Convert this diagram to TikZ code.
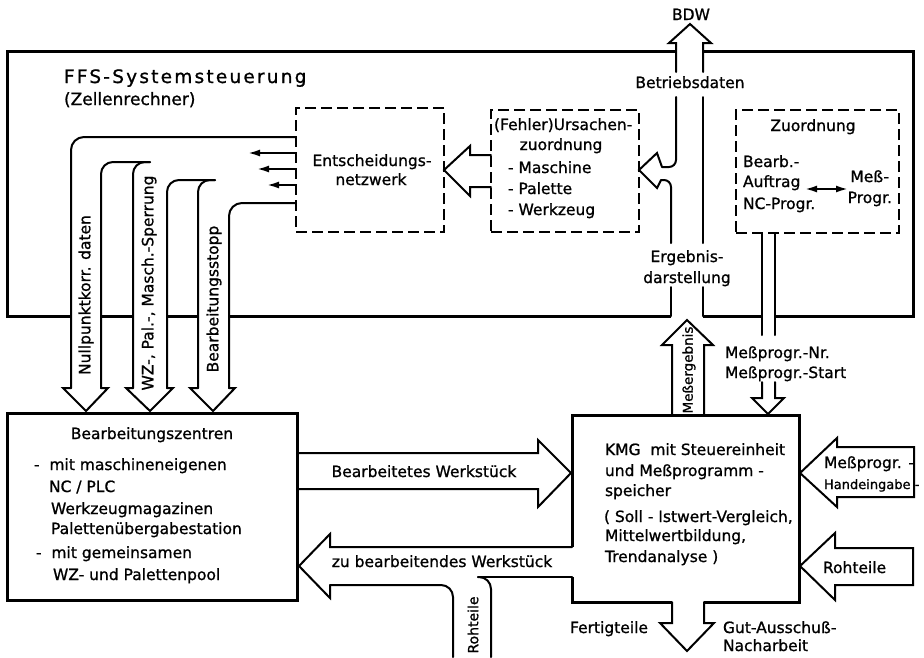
\documentclass[tikz,border=0pt]{standalone}
\usepackage{fontspec}
\setmainfont{DejaVu Sans}[FakeBold=1]
\newfontfamily\titlefont[LetterSpace=12,FakeBold=1]{DejaVu Sans}
\usetikzlibrary{arrows.meta}

\begin{document}
\begin{tikzpicture}[x=1pt, y=-1pt, line width=2pt, line cap=round,
    every node/.style={inner sep=0pt, font=\fontsize{15.5}{18}\selectfont},
    frame/.style={line width=3pt, line cap=butt},
    dashbox/.style={draw, line width=2pt, dash pattern=on 11pt off 5pt, line cap=butt},
    solidbox/.style={draw, line width=3pt},
    txt/.style={anchor=base west},
    mid/.style={anchor=base},
    rgt/.style={anchor=base east},
    vtxt/.style={rotate=90}]
   \tikzset{>={Latex[length=12pt,width=7pt]}}
   \useasboundingbox (0,0) rectangle (924,657);

   \draw[frame] (71,316) -- (7,316) -- (7,51) -- (676,51);
   \draw[frame] (703,51) -- (913,51) -- (913,316) -- (775,316);
   \draw[frame] (762,316) -- (703,316);
   \draw[frame] (671,316) -- (229,316);
   \draw[frame] (198,316) -- (167,316);
   \draw[frame] (133,316) -- (101,316);
   \node[txt, font=\titlefont\fontsize{18.5}{22}\selectfont] (title) at (63,83) {FFS-Systemsteuerung};
   \node[txt, font=\fontsize{17}{20}\selectfont] (sub) at (63,105) {(Zellenrechner)};

   \node[dashbox, minimum width=148pt, minimum height=124pt] (netz) at (370,170) {};
   \node[mid] (netz1) at (372,166) {Entscheidungs-};
   \node[mid] (netz2) at (371,185) {netzwerk};
   \node[dashbox, minimum width=148pt, minimum height=122pt] (urs) at (565,171) {};
   \node[txt] (urs1) at (493,130) {(Fehler)Ursachen-};
   \node[mid] (urs2) at (561,150) {zuordnung};
   \node[txt] (urs3) at (507,173) {- Maschine};
   \node[txt] (urs4) at (507,194) {- Palette};
   \node[txt] (urs5) at (507,215) {- Werkzeug};
   \node[dashbox, minimum width=163pt, minimum height=123pt] (zuord) at (817.5,171.5) {};
   \node[mid] (zu1) at (813,131) {Zuordnung};
   \node[txt] (zu2) at (742,167) {Bearb.-};
   \node[txt] (zu3) at (742,187) {Auftrag};
   \node[txt] (zu4) at (742,209) {NC-Progr.};
   \node[rgt] (zu5) at (890,182) {Meß-};
   \node[rgt] (zu6) at (893,203) {Progr.};
   \draw[<->] (805,189) -- (848,189);

   \draw[rounded corners=13pt] (296,137) -- (71,137) -- (71,388);
   \draw (71,388) -- (63,388) -- (86,411) -- (108,388) -- (101,388);
   \draw[rounded corners=12pt] (101,388) -- (101,162) -- (150,162);
   \draw[rounded corners=12pt] (133,388) -- (133,162) -- (150,162);
   \draw (133,388) -- (126,388) -- (150,411) -- (173,388) -- (167,388);
   \draw[rounded corners=12pt] (167,388) -- (167,180) -- (215,180);
   \draw[rounded corners=12pt] (198,388) -- (198,180) -- (215,180);
   \draw (198,388) -- (190,388) -- (213,411) -- (235,388) -- (229,388);
   \draw[rounded corners=13pt] (229,388) -- (229,203) -- (296,203);
   \draw[->] (296,153) -- (248,153);
   \draw[->] (296,169) -- (257,169);
   \draw[->] (296,185) -- (267,185);
   \node[vtxt] (nullp) at (86,295) {Nullpunktkorr. daten};
   \node[vtxt] (sperr) at (149,283) {WZ-, Pal.-, Masch.-Sperrung};
   \node[vtxt] (stopp) at (214,299) {Bearbeitungsstopp};

   \draw (491,155) -- (470,155) -- (470,146) -- (444,170) -- (470,196) -- (470,187) -- (491,187);

   \draw (676,72) -- (676,43) -- (669,43) -- (690,24) -- (711,43) -- (703,43) -- (703,72);
   \node[mid] (bdw) at (691,20) {BDW};
   \node[mid] (betrieb) at (690,88) {Betriebsdaten};
   \draw[rounded corners=7pt] (676,97) -- (676,167) -- (662,167);
   \draw (662,167) -- (657,153) -- (639,170) -- (657,188) -- (661,180);
   \draw[rounded corners=7pt] (661,180) -- (671,180) -- (671,243);
   \draw (703,97) -- (703,243);
   \node[mid] (erg1) at (687,262) {Ergebnis-};
   \node[mid] (erg2) at (687,283) {darstellung};
   \draw (671,287) -- (671,316);
   \draw (703,287) -- (703,316);

   \draw (672,415) -- (672,345) -- (662,345) -- (687,320) -- (713,345) -- (704,345) -- (704,415);
   \node[vtxt, font=\fontsize{13.5}{16}\selectfont] (messerg) at (689,370) {Meßergebnis};

   \draw (762,233) -- (762,335);
   \draw (775,233) -- (775,335);
   \draw (762,382) -- (762,398) -- (752,398) -- (768,414) -- (784,398) -- (775,398) -- (775,382);
   \node[txt] (mpnr) at (724,358) {Meßprogr.-Nr.};
   \node[txt] (mpst) at (724,378) {Meßprogr.-Start};

   \node[solidbox, minimum width=290pt, minimum height=187pt] (bz) at (152,506.5) {};
   \node[mid] (bz1) at (152,439) {Bearbeitungszentren};
   \node[txt] (bz2) at (33,470) {-~~mit maschineneigenen};
   \node[txt] (bz3) at (48,492) {NC / PLC};
   \node[txt] (bz4) at (50,514) {Werkzeugmagazinen};
   \node[txt] (bz5) at (50,534) {Palettenübergabestation};
   \node[txt] (bz6) at (35,558) {-~~mit gemeinsamen};
   \node[txt] (bz7) at (52,580) {WZ- und Palettenpool};

   \draw[frame] (572,547) -- (572,415) -- (799,415) -- (799,602) -- (704,602);
   \draw[frame] (672,602) -- (572,602) -- (572,577);
   \node[txt] (kmg1) at (604,455) {KMG\ \ mit Steuereinheit};
   \node[txt] (kmg2) at (604,476) {und Meßprogramm -};
   \node[txt] (kmg3) at (604,496) {speicher};
   \node[txt] (kmg4) at (603,522) {( Soll - Istwert-Vergleich,};
   \node[txt] (kmg5) at (604,541) {Mittelwertbildung,};
   \node[txt] (kmg6) at (604,562) {Trendanalyse )};

   \draw (297,453) -- (538,453) -- (538,440) -- (571,473) -- (538,507) -- (538,489) -- (297,489);
   \node[mid] (bearb) at (424,477) {Bearbeitetes Werkstück};
   \draw (572,547) -- (330,547) -- (330,534) -- (299,566) -- (330,598) -- (330,585);
   \draw[rounded corners=12pt] (330,585) -- (453,585) -- (453,657);
   \draw (572,577) -- (478,577);
   \draw[rounded corners=12pt] (491,657) -- (491,577) -- (478,577);
   \node[mid] (zubearb) at (442,567) {zu bearbeitendes Werkstück};
   \node[vtxt, font=\fontsize{14}{16}\selectfont] (roh1) at (473,625) {Rohteile};

   \draw (914,447) -- (837,447) -- (837,438) -- (800,473) -- (837,507) -- (837,497) -- (914,497) -- cycle;
   \node[txt] (hand1) at (823,468) {Meßprogr. -};
   \node[txt, font=\fontsize{13}{16}\selectfont] (hand2) at (823,489) {Handeingabe -};
   \draw (913,548) -- (835,548) -- (835,533) -- (800,566) -- (835,600) -- (835,585) -- (913,585) -- cycle;
   \node[txt] (roh2) at (822,573) {Rohteile};

   \draw (672,602) -- (672,623) -- (660,623) -- (687,651) -- (714,623) -- (704,623) -- (704,602);
   \node[rgt] (fertig) at (649,633) {Fertigteile};
   \node[txt] (gut1) at (722,633) {Gut-Ausschuß-};
   \node[txt] (gut2) at (722,651) {Nacharbeit};
\end{tikzpicture}
\end{document}
